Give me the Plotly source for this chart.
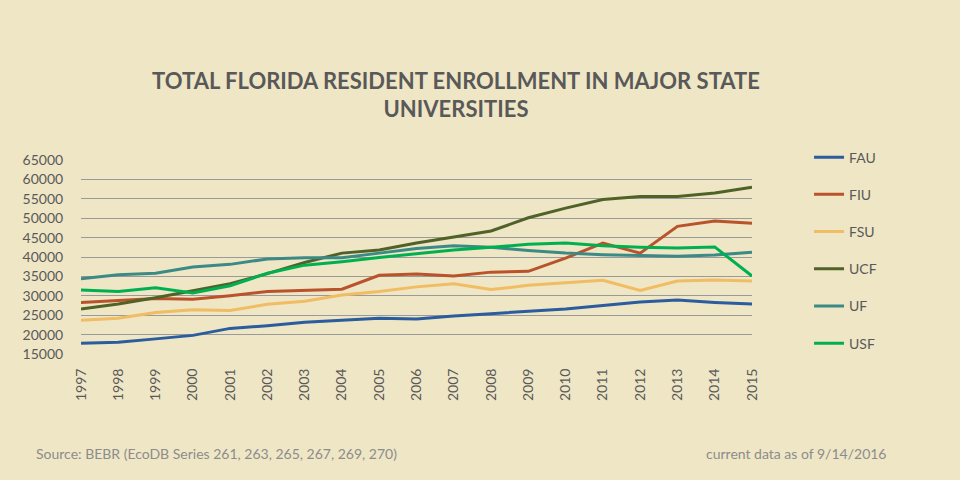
import plotly.graph_objects as go

years = [str(y) for y in range(1997, 2016)]
FAU = [17800, 18000, 18900, 19800, 21600, 22300, 23200, 23700, 24200, 24000, 24800, 25400, 26000, 26600, 27500, 28400, 28900, 28300, 27900]
FIU = [28300, 28800, 29300, 29100, 30000, 31100, 31400, 31700, 35300, 35600, 35100, 36100, 36300, 39700, 43600, 41000, 47900, 49300, 48700]
FSU = [23700, 24200, 25700, 26400, 26200, 27800, 28600, 30200, 31100, 32300, 33100, 31600, 32700, 33300, 34000, 31400, 33800, 34100, 33800]
UCF = [26600, 27900, 29500, 31300, 33100, 35700, 38600, 41000, 41800, 43600, 45200, 46700, 50100, 52600, 54800, 55600, 55600, 56500, 58000]
UF = [34400, 35400, 35800, 37400, 38100, 39500, 39800, 39800, 41000, 42200, 42900, 42500, 41700, 41000, 40600, 40400, 40200, 40500, 41200]
USF = [31500, 31100, 32100, 30700, 32600, 35800, 37900, 38800, 39900, 40800, 41800, 42500, 43300, 43600, 42900, 42500, 42300, 42600, 35100]

series = [("FAU", FAU, "#2A5C9E"), ("FIU", FIU, "#B8532C"), ("FSU", FSU, "#F0BC64"),
          ("UCF", UCF, "#4F6228"), ("UF", UF, "#3B8A86"), ("USF", USF, "#00B050")]

bg = "#EFE6C5"
fig = go.Figure()
for name, vals, col in series:
    fig.add_trace(go.Scatter(x=years, y=vals, name=name, mode="lines",
                             line=dict(color=col, width=3), legendgroup=name))

fig.update_layout(
    width=960, height=480,
    paper_bgcolor=bg, plot_bgcolor=bg,
    margin=dict(l=81, r=208, t=160, b=126),
    font=dict(family="Lato, Open Sans, sans-serif", color="#595959"),
    title=dict(text="<b>TOTAL FLORIDA RESIDENT ENROLLMENT IN MAJOR STATE<br>UNIVERSITIES</b>",
               x=0.475, xanchor="center", y=0.815, yanchor="middle",
               font=dict(size=22, color="#595959")),
    showlegend=True,
    legend=dict(x=1.085, xanchor="left", y=1.095, yanchor="top",
                font=dict(size=14, color="#595959"), tracegroupgap=16,
                itemwidth=30, bgcolor="rgba(0,0,0,0)"),
    xaxis=dict(type="category", tickangle=-90, showgrid=False, showline=False,
               ticks="outside", ticklen=8, tickcolor=bg,
               tickfont=dict(size=14, color="#595959")),
    yaxis=dict(range=[15000, 65000], dtick=5000, showgrid=True, gridcolor="#9A9A9A",
               gridwidth=1, zeroline=False, showline=False, ticks="outside", ticklen=14,
               tickcolor=bg, tickfont=dict(size=14, color="#595959"), tickformat="d"),
    annotations=[
        dict(text="Source: BEBR (EcoDB Series 261, 263, 265, 267, 269, 270)", xref="paper", yref="paper",
             x=-0.07, y=-0.515, xanchor="left", yanchor="middle", showarrow=False,
             font=dict(size=14, color="#8C8C8C")),
        dict(text="current data as of 9/14/2016", xref="paper", yref="paper",
             x=0.928, y=-0.515, xanchor="left", yanchor="middle", showarrow=False,
             font=dict(size=14, color="#8C8C8C")),
    ],
)
fig.write_html("out.html", config={"displayModeBar": False},
               post_script="document.body.style.margin='0';")
